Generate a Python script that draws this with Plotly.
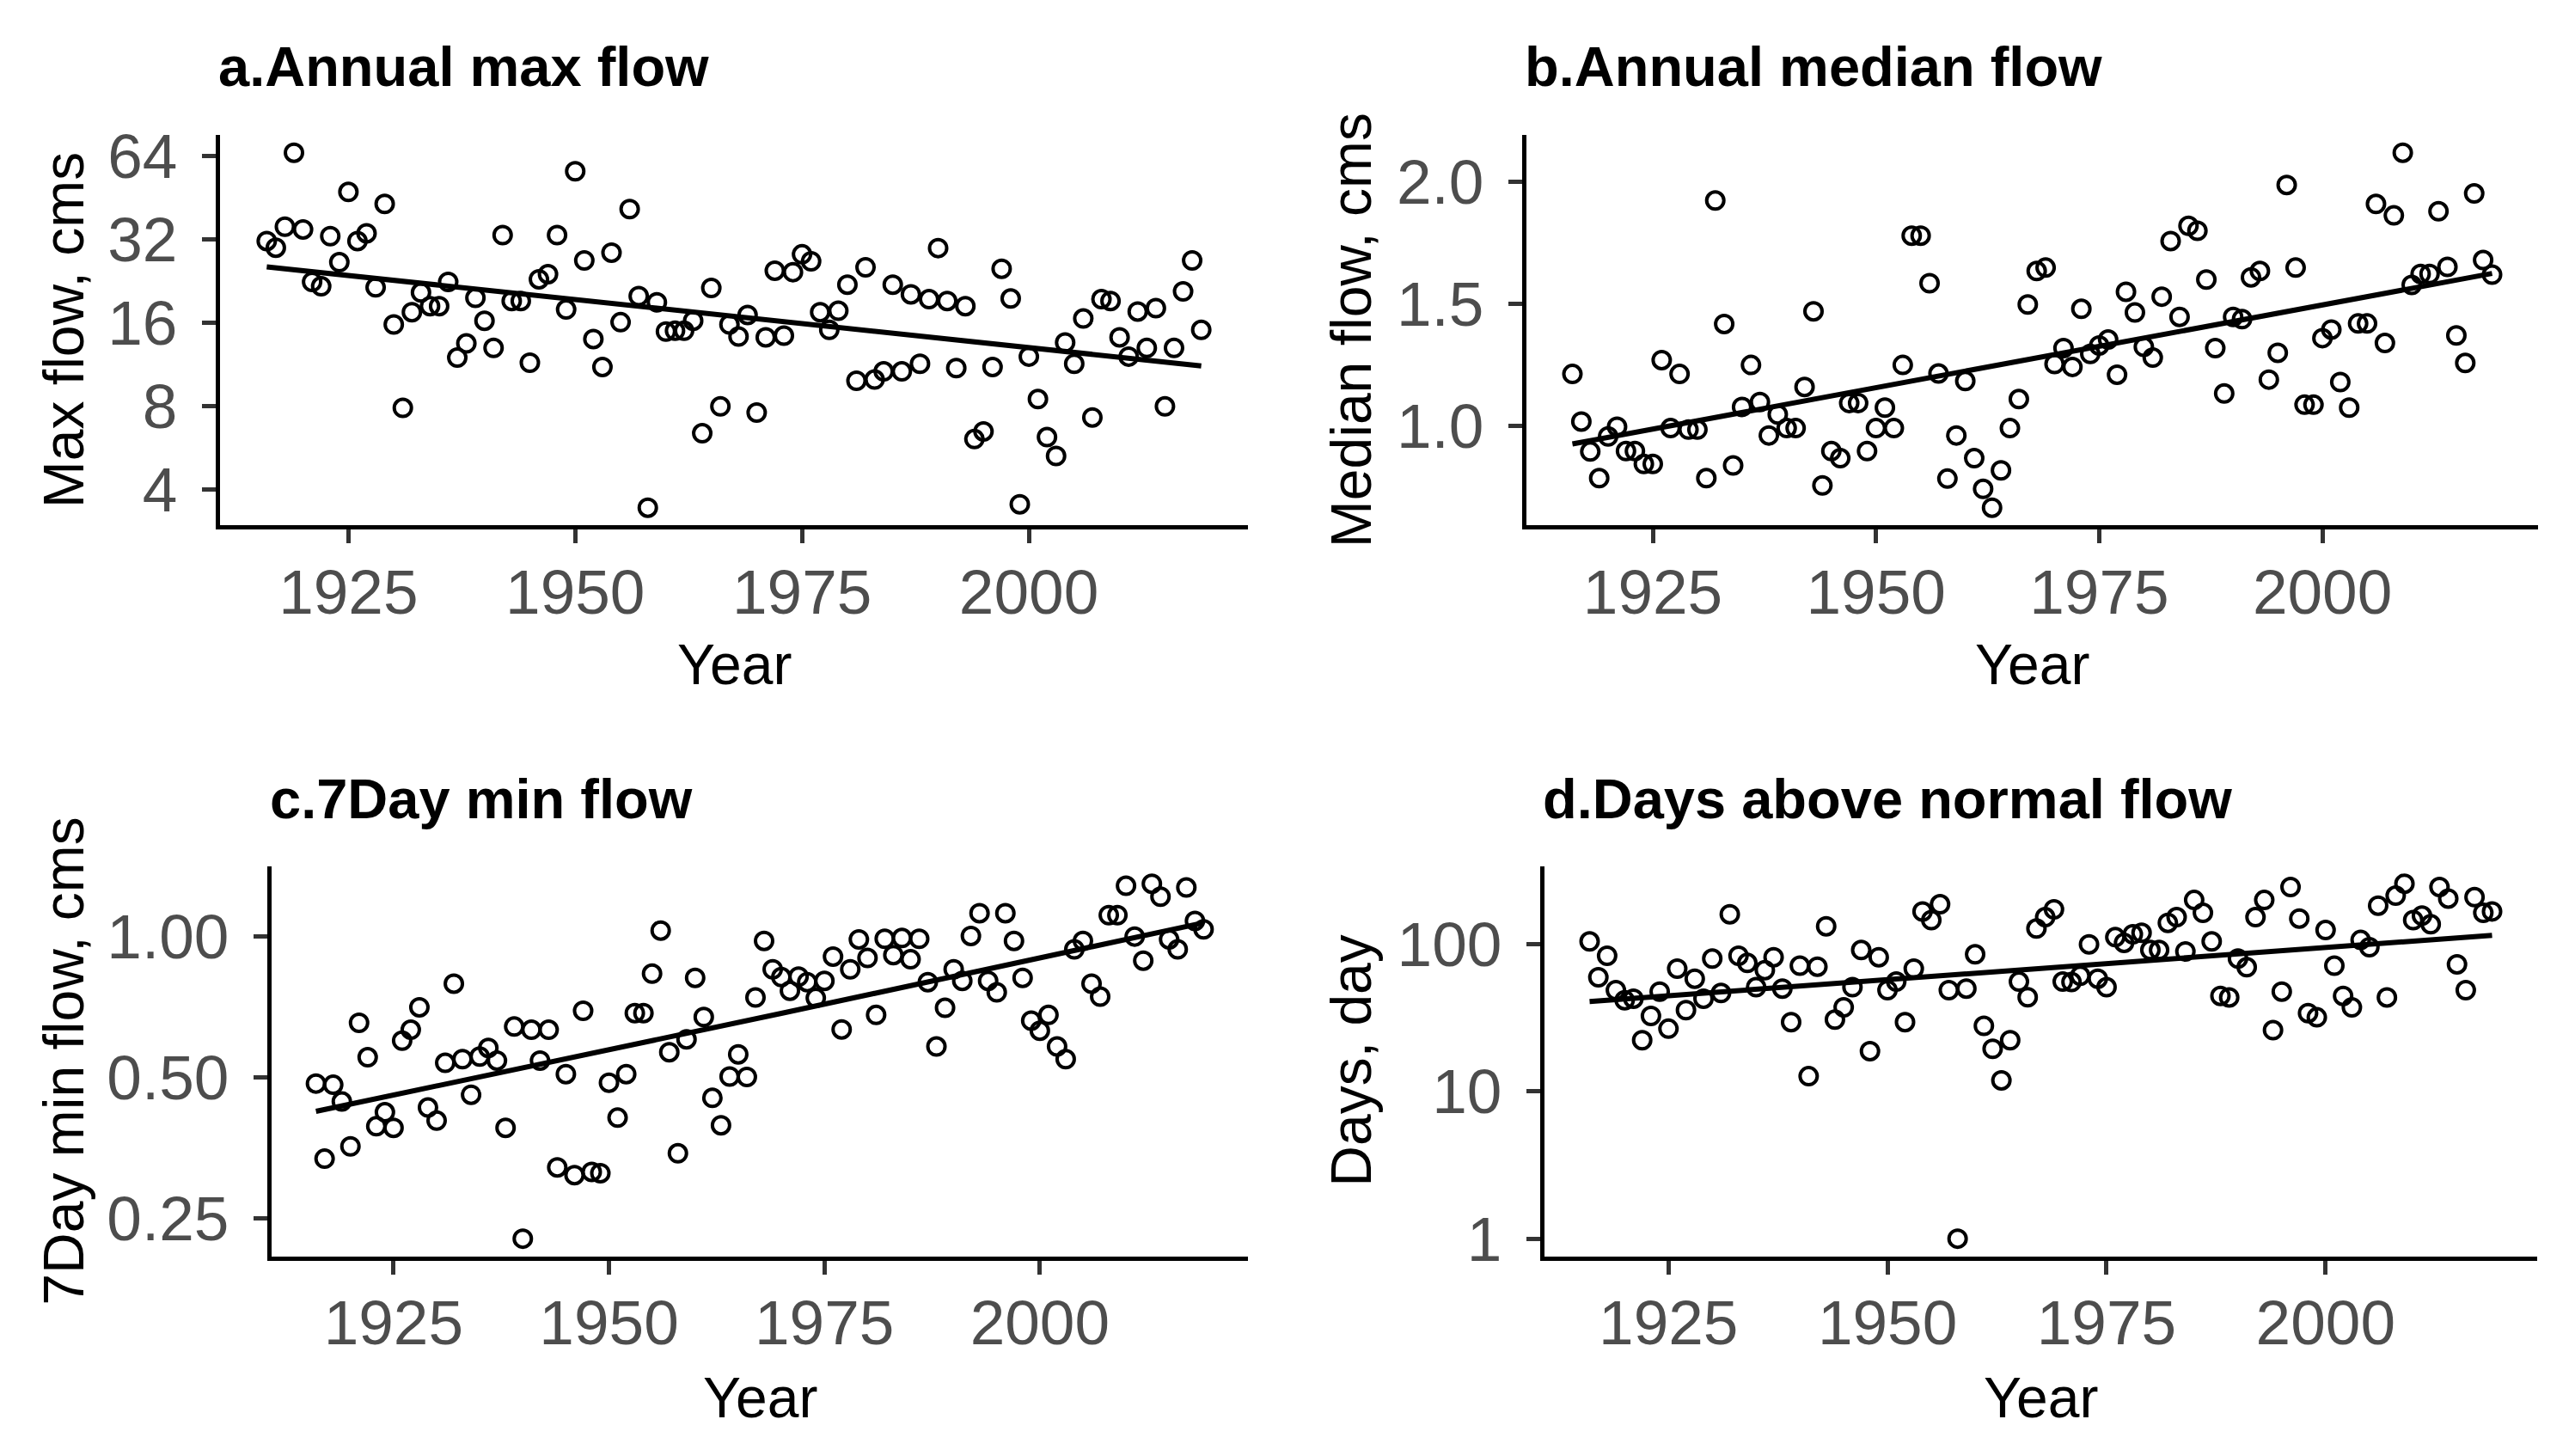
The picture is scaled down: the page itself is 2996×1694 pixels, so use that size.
import numpy as np
import plotly.graph_objects as go

# ---------------- data ----------------
years = list(range(1916, 2020))

max_flow = [31.6, 29.9, 35.6, 65.8, 34.8, 22.5, 21.7, 32.9, 26.5, 47.5,
            31.6, 33.7, 21.5, 43.0, 15.8, 7.9, 17.5, 20.6, 18.4, 18.4,
            22.5, 12.0, 13.5, 19.7, 16.3, 13.0, 33.2, 19.2, 19.2, 11.5,
            23.0, 24.0, 33.2, 17.9, 56.4, 26.9, 14.0, 11.1, 28.7, 16.1,
            41.2, 20.0, 3.45, 19.0, 14.9, 15.0, 15.0, 16.3, 6.4, 21.4,
            8.0, 15.8, 14.3, 17.1, 7.6, 14.2, 24.7, 14.4, 24.4, 28.3,
            26.7, 17.5, 15.1, 17.7, 22.0, 9.9, 25.4, 10.0, 10.7, 22.0,
            10.7, 20.3, 11.4, 19.5, 29.8, 19.2, 11.0, 18.4, 6.1, 6.5,
            11.1, 25.1, 19.6, 3.55, 12.1, 8.5, 6.2, 5.3, 13.6, 11.4,
            16.6, 7.3, 19.5, 19.2, 14.2, 12.1, 17.6, 13.0, 18.1, 8.0,
            13.0, 20.8, 26.9, 15.1]

median_flow = [1.213, 1.018, 0.895, 0.786, 0.957, 0.997, 0.897, 0.897, 0.844, 0.844,
               1.27, 0.991, 1.213, 0.985, 0.985, 0.786, 1.924, 1.418, 0.838, 1.078,
               1.25, 1.098, 0.961, 1.047, 0.991, 0.991, 1.16, 1.47, 0.756, 0.897,
               0.868, 1.094, 1.094, 0.897, 0.991, 1.075, 0.991, 1.25, 1.78, 1.78,
               1.585, 1.215, 0.784, 0.961, 1.184, 0.868, 0.742, 0.665, 0.818, 0.991,
               1.11, 1.498, 1.635, 1.649, 1.254, 1.319, 1.242, 1.48, 1.295, 1.33,
               1.354, 1.21, 1.55, 1.465, 1.324, 1.28, 1.53, 1.758, 1.447, 1.82,
               1.80, 1.60, 1.319, 1.133, 1.447, 1.438, 1.609, 1.635, 1.19, 1.30,
               1.988, 1.649, 1.087, 1.087, 1.36, 1.395, 1.18, 1.075, 1.42, 1.42,
               1.91, 1.34, 1.863, 2.12, 1.578, 1.623, 1.623, 1.88, 1.652, 1.371,
               1.258, 1.953, 1.68, 1.62]

min7_flow = [0.485, 0.335, 0.482, 0.444, 0.356, 0.654, 0.552, 0.393, 0.421, 0.390,
             0.599, 0.632, 0.706, 0.431, 0.404, 0.537, 0.793, 0.547, 0.459, 0.554,
             0.578, 0.543, 0.390, 0.642, 0.226, 0.632, 0.543, 0.632, 0.321, 0.508,
             0.309, 0.694, 0.314, 0.312, 0.487, 0.410, 0.508, 0.686, 0.686, 0.833,
             1.03, 0.566, 0.344, 0.603, 0.816, 0.673, 0.452, 0.395, 0.502, 0.560,
             0.501, 0.741, 0.979, 0.851, 0.819, 0.766, 0.821, 0.799, 0.739, 0.804,
             0.906, 0.633, 0.851, 0.986, 0.900, 0.680, 0.989, 0.913, 0.993, 0.894,
             0.989, 0.799, 0.582, 0.704, 0.851, 0.804, 1.003, 1.122, 0.804, 0.760,
             1.122, 0.979, 0.816, 0.661, 0.629, 0.680, 0.582, 0.547, 0.939, 0.979,
             0.793, 0.744, 1.111, 1.111, 1.284, 1.0, 0.888, 1.297, 1.217, 0.986,
             0.939, 1.273, 1.080, 1.036]

days_above = [104.6, 59.7, 83.6, 48.8, 41.7, 42.7, 22.3, 32.6, 47.7, 26.7,
              68.3, 35.7, 58.4, 42.7, 79.9, 46.7, 160, 83.6, 74.7, 51.1,
              66.8, 81.7, 50.0, 29.6, 71.5, 12.7, 70.5, 132.6, 30.8, 37.3,
              51.1, 91.4, 18.8, 81.7, 48.8, 55.8, 29.6, 68.3, 167, 146,
              187, 48.8, 1.0, 50.0, 85.5, 27.9, 19.5, 11.9, 22.3, 55.8,
              43.7, 128, 153, 172.8, 55.8, 55.4, 61.1, 100, 58.4, 51.1,
              111.8, 102.3, 117, 119.6, 91.4, 91.4, 139.9, 153, 89.4, 200,
              163.7, 104.6, 44.6, 43.6, 80, 69.9, 153, 200, 26.1, 47.7,
              245, 149.6, 34.1, 31.9, 125, 71.5, 44.6, 37.3, 107, 95.6,
              183, 43.6, 214, 258, 146, 156.5, 136.8, 245, 204.5, 73.1,
              48.8, 209, 163.7, 167.3]

trend_years = [1916, 1970, 2019]
trend_max = [25.5, 16.6, 11.2]
trend_median = [0.926, 1.292, 1.625]
trend_min7 = [0.423, 0.685, 1.07]
trend_days = [40.9, 70.3, 115.0]

x_ticks = [1925, 1950, 1975, 2000]
ticks_a = [4, 8, 16, 32, 64]
ticks_b = [1.0, 1.5, 2.0]
ticks_b_text = ["1.0", "1.5", "2.0"]
ticks_c = [0.25, 0.5, 1.0]
ticks_c_text = ["0.25", "0.50", "1.00"]
ticks_d = [1, 10, 100]

titles = ["a.Annual max flow", "b.Annual median flow",
          "c.7Day min flow", "d.Days above normal flow"]
y_titles = ["Max flow, cms", "Median flow, cms", "7Day min flow, cms", "Days, day"]

# ---------------- layout helpers ----------------
OFF = 8                      # page body margin in the browser
W, H = 2996 - 2 * OFF, 1694
FONT = "Liberation Sans, Arial, sans-serif"
TICK_FONT = dict(family=FONT, size=73, color="#4D4D4D")


def fx(px):
    return (px - OFF) / W


def fy(py):
    # vertical correction measured from previous renders
    page_y = 1.0223 * py - 17.6
    return 1 - (page_y - OFF) / H


def expand(lo, hi, f=0.05):
    d = hi - lo
    return [lo - f * d, hi + f * d]


x_range = expand(min(years), max(years))

panels = [
    dict(y=max_flow, ty=trend_max, log=True, tv=ticks_a, tt=[str(v) for v in ticks_a],
         box=(256, 1452, 158, 612), ytitle_x=74),
    dict(y=median_flow, ty=trend_median, log=False, tv=ticks_b, tt=ticks_b_text,
         box=(1776, 2953, 158, 612), ytitle_x=1572),
    dict(y=min7_flow, ty=trend_min7, log=True, tv=ticks_c, tt=ticks_c_text,
         box=(316, 1452, 1008, 1462), ytitle_x=74),
    dict(y=days_above, ty=trend_days, log=True, tv=ticks_d, tt=[str(v) for v in ticks_d],
         box=(1797, 2952, 1008, 1462), ytitle_x=1572),
]

fig = go.Figure()
annotations = []
layout_axes = {}

for i, p in enumerate(panels, start=1):
    xa = "x" if i == 1 else f"x{i}"
    ya = "y" if i == 1 else f"y{i}"
    x0, x1, y0, y1 = p["box"]

    fig.add_trace(go.Scatter(
        x=years, y=p["y"], mode="markers", xaxis=xa, yaxis=ya,
        marker=dict(symbol="circle-open", size=20, color="black",
                    line=dict(width=4, color="black")),
        showlegend=False, hoverinfo="x+y"))
    fig.add_trace(go.Scatter(
        x=trend_years, y=p["ty"], mode="lines", xaxis=xa, yaxis=ya,
        line=dict(color="black", width=6), showlegend=False, hoverinfo="skip"))

    if p["log"]:
        lv = np.log10(p["y"])
        yr = expand(float(lv.min()), float(lv.max()))
        ytype = "log"
    else:
        yr = expand(min(p["y"]), max(p["y"]))
        ytype = "linear"

    common = dict(showline=True, linecolor="black", linewidth=5, showgrid=False,
                  zeroline=False, ticks="outside", ticklen=16, tickwidth=4.5,
                  tickcolor="#333333", tickfont=TICK_FONT)

    layout_axes["xaxis" if i == 1 else f"xaxis{i}"] = dict(
        domain=[fx(x0), fx(x1)], anchor=ya, range=x_range,
        tickmode="array", tickvals=x_ticks, ticklabelstandoff=-6, **common)
    layout_axes["yaxis" if i == 1 else f"yaxis{i}"] = dict(
        domain=[fy(y1), fy(y0)], anchor=xa, range=yr, type=ytype,
        tickmode="array", tickvals=p["tv"], ticktext=p["tt"],
        ticklabelstandoff=14, **common)

    # panel title
    annotations.append(dict(
        text=f"<b>{titles[i-1]}</b>", xref="paper", yref="paper",
        x=fx(x0 - 4), y=fy(79 if i <= 2 else 930), xanchor="left", yanchor="middle",
        showarrow=False, font=dict(family=FONT, size=65, color="black")))
    # x axis title
    annotations.append(dict(
        text="Year", xref="paper", yref="paper",
        x=fx((x0 + x1) / 2), y=fy(774 if i <= 2 else 1626), xanchor="center",
        yanchor="middle", showarrow=False,
        font=dict(family=FONT, size=66, color="black")))
    # y axis title
    annotations.append(dict(
        text=y_titles[i-1], xref="paper", yref="paper",
        x=fx(p["ytitle_x"]), y=fy((y0 + y1) / 2), xanchor="center",
        yanchor="middle", textangle=-90, showarrow=False,
        font=dict(family=FONT, size=66, color="black")))

fig.update_layout(
    width=W, height=H,
    margin=dict(l=0, r=0, t=0, b=0),
    paper_bgcolor="white", plot_bgcolor="white",
    annotations=annotations,
    **layout_axes)

fig.write_html("out.html")
